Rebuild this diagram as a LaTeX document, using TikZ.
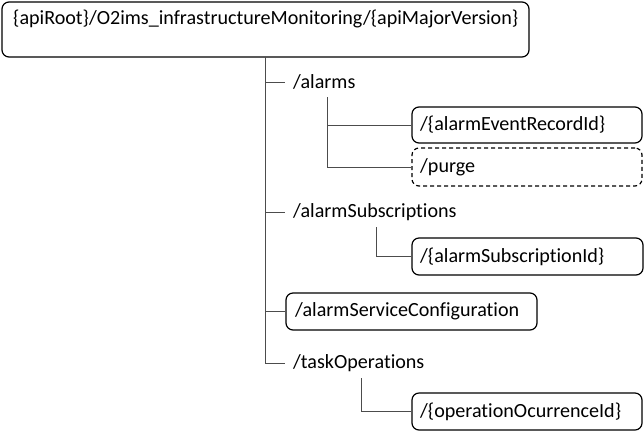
\documentclass[tikz,border=0pt]{standalone}
\usepackage{fontspec}
\setmainfont{Carlito}[Ligatures={NoCommon,NoRequired,NoContextual}]
\begin{document}
\begin{tikzpicture}[x=1pt,y=-1pt,
  box/.style={draw=black, line width=1.2pt, rounded corners=7pt, inner sep=0pt},
  dbox/.style={box, dashed, dash pattern=on 4pt off 3pt},
  lbl/.style={anchor=west, inner sep=0pt, font=\fontsize{20.1}{23}\selectfont},
  conn/.style={draw=black!70, line width=0.8pt}]
\useasboundingbox (0,0) rectangle (644,432);
% root
\node[box, minimum width=527pt, minimum height=55pt] (root) at (265.5,29.5) {};
\node[lbl] (roottxt) at (13,19) {\{apiRoot\}/O2ims\_infrastructureMonitoring/\{apiMajorVersion\}};
% first level
\node[lbl] (alarms) at (293,82) {/alarms};
\node[lbl] (subs) at (293,212) {/alarmSubscriptions};
\node[box, minimum width=251pt, minimum height=37pt] (conf) at (411.5,311.5) {};
\node[lbl] (conftxt) at (295,311.5) {/alarmServiceConfiguration};
\node[lbl] (task) at (293,363) {/taskOperations};
% second level
\node[box, minimum width=230pt, minimum height=36pt] (rec) at (527,125) {};
\node[lbl] (rectxt) at (420,125) {/\{alarmEventRecordId\}};
\node[dbox, minimum width=230pt, minimum height=38pt] (purge) at (527,167) {};
\node[lbl] (purgetxt) at (420,167) {/purge};
\node[box, minimum width=231pt, minimum height=37pt] (subid) at (527.5,256.5) {};
\node[lbl] (subidtxt) at (420,256.5) {/\{alarmSubscriptionId\}};
\node[box, minimum width=230pt, minimum height=37pt] (opid) at (527,411.5) {};
\node[lbl] (opidtxt) at (420,411.5) {/\{operationOcurrenceId\}};
% connectors
\coordinate (trunktop) at (265,57);
\coordinate (trunkend) at (265,363);
\coordinate (s1) at (285,82);
\coordinate (s2) at (285,212);
\coordinate (s4) at (285,363);
\draw[conn] (trunktop) -- (trunkend) -- (s4);
\draw[conn] (trunktop |- s1) -- (s1);
\draw[conn] (trunktop |- s2) -- (s2);
\draw[conn] (trunktop |- conf.west) -- (conf.west);
\coordinate (a1) at (327,97);
\draw[conn] (a1) |- (purge.west);
\draw[conn] (a1 |- rec.west) -- (rec.west);
\coordinate (b1) at (376,227);
\draw[conn] (b1) |- (subid.west);
\coordinate (c1) at (361,378);
\draw[conn] (c1) |- (opid.west);
\end{tikzpicture}
\end{document}
